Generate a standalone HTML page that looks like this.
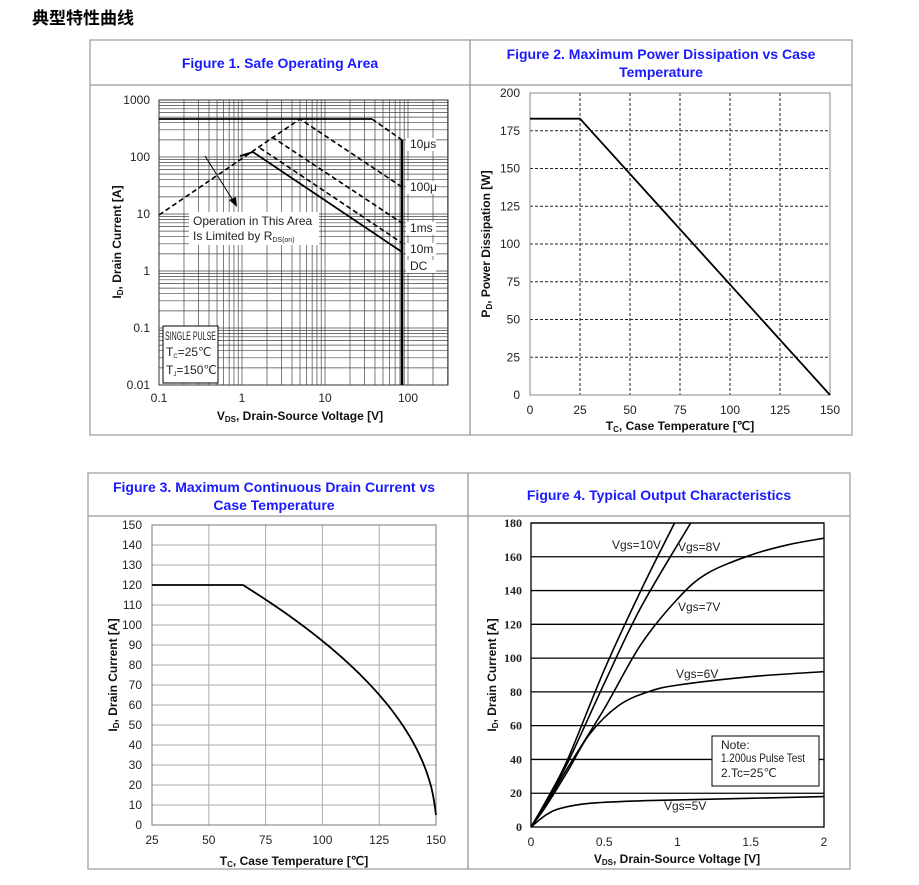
<!DOCTYPE html>
<html><head><meta charset="utf-8"><style>
body{margin:0;background:#fff;width:919px;height:885px;overflow:hidden}
svg{display:block;font-family:"Liberation Sans",Arial,sans-serif}
.t{fill:#1a1aff;font-weight:bold;font-size:14px}
.tk{font-size:12px;fill:#222}
.ax{font-size:12px;font-weight:bold;fill:#111}
</style></head><body>
<svg id="s" width="919" height="885" xmlns="http://www.w3.org/2000/svg">
<text x="32" y="24" font-size="17" font-weight="bold" font-family="'Liberation Sans','Noto Sans CJK SC',sans-serif">典型特性曲线</text>
<g fill="none" stroke="#999" stroke-width="1.2">
<rect x="90" y="40" width="380" height="395"/><rect x="470" y="40" width="382" height="395"/>
<line x1="90" y1="85" x2="852" y2="85"/>
<rect x="88" y="473" width="380" height="396"/><rect x="468" y="473" width="382" height="396"/>
<line x1="88" y1="516" x2="850" y2="516"/>
</g>
<text class="t" x="280" y="68" text-anchor="middle">Figure 1. Safe Operating Area</text>
<text class="t" x="661" y="59" text-anchor="middle">Figure 2. Maximum Power Dissipation vs Case</text>
<text class="t" x="661" y="77" text-anchor="middle">Temperature</text>
<text class="t" x="274" y="492" text-anchor="middle">Figure 3. Maximum Continuous Drain Current vs</text>
<text class="t" x="274" y="510" text-anchor="middle">Case Temperature</text>
<text class="t" x="659" y="500" text-anchor="middle">Figure 4. Typical Output Characteristics</text>
<g id="g"></g>
</svg>
<script>
var g=document.getElementById('g'),h='';
function L(a,b,c,d,st){h+='<line x1="'+a+'" y1="'+b+'" x2="'+c+'" y2="'+d+'" '+st+'/>';}
function T(x,y,t,cls,anc,ex){h+='<text x="'+x+'" y="'+y+'" class="'+(cls||'tk')+'" text-anchor="'+(anc||'middle')+'" '+(ex||'')+'>'+t+'</text>';}
function P(pts,st){h+='<polyline fill="none" points="'+pts.map(function(p){return p[0].toFixed(1)+','+p[1].toFixed(1)}).join(' ')+'" '+st+'/>';}
var fx=function(v){return 242+83*Math.log10(v)},fy=function(i){return 100+57*(3-Math.log10(i))};
var gs='stroke="#444" stroke-width="0.7"';
for(var d=-1;d<=2;d++)for(var k=1;k<10;k++){var v=k*Math.pow(10,d);if(v>300)break;L(fx(v),100,fx(v),385,gs);}
L(448,100,448,385,gs);
for(var d=-2;d<=2;d++)for(var k=1;k<10;k++){var v=k*Math.pow(10,d);L(159,fy(v),448,fy(v),gs);}
L(159,100,448,100,gs);
h+='<rect x="159" y="100" width="289" height="285" fill="none" stroke="#333" stroke-width="1"/>';
[[1000,100],[100,157],[10,214],[1,271],[0.1,328],[0.01,385]].forEach(function(a){T(150,a[1]+4,a[0],'tk','end');});
[[0.1,159],[1,242],[10,325],[100,408]].forEach(function(a){T(a[1],402,a[0]);});
T(300,420,'V<tspan font-size="8" dy="2">DS</tspan><tspan dy="-2">, Drain-Source Voltage [V]</tspan>','ax');
T(0,0,'I<tspan font-size="8" dy="2">D</tspan><tspan dy="-2">, Drain Current [A]</tspan>','ax','middle','transform="translate(121,242) rotate(-90)"');
var ds='stroke="#000" stroke-width="1.6" stroke-dasharray="5,3"';
P([[159,119],[372,119]],'stroke="#000" stroke-width="1.8"');
P([[372,119],[402,140]],ds);
L(402,140,402,385,'stroke="#000" stroke-width="2.5"');
P([[159,215],[300,119],[402,187]],ds);
P([[272,137],[402,223]],ds);
P([[260,148],[402,243]],ds);
P([[240,156],[253,152],[402,252]],'stroke="#000" stroke-width="1.8"');
[['10μs',148],['100μ',191],['1ms',232],['10m',253],['DC',270]].forEach(function(a){h+='<rect x="406" y="'+(a[1]-10)+'" width="30" height="13" fill="#fff"/>';T(410,a[1],a[0],'tk','start','font-size="11"');});
h+='<rect x="189" y="212" width="130" height="33" fill="#fff"/>';
T(193,225,'Operation in This Area','tk','start','font-size="11"');
T(193,240,'Is Limited by R<tspan font-size="7" dy="2">DS(on)</tspan>','tk','start','font-size="11"');
L(205,156,234,202,'stroke="#000" stroke-width="1"');
h+='<polygon points="237,207 229,200 236,197" fill="#000"/>';
h+='<rect x="163" y="326" width="55" height="57" fill="#fff" stroke="#000" stroke-width="1"/>';
T(165,340,'SINGLE PULSE','tk','start','font-size="8.5" textLength="51" lengthAdjust="spacingAndGlyphs"');
T(166,356,'T<tspan font-size="6" dy="2">C</tspan><tspan dy="-2">=25℃</tspan>','tk','start','font-size="9"');
T(166,374,'T<tspan font-size="6" dy="2">J</tspan><tspan dy="-2">=150℃</tspan>','tk','start','font-size="9"');
var x2=function(t){return 530+t*2},y2=function(p){return 395-p*1.51};
for(var t=25;t<150;t+=25)L(x2(t),93,x2(t),395,'stroke="#222" stroke-width="1" stroke-dasharray="3,2"');
for(var p=25;p<200;p+=25)L(530,y2(p),830,y2(p),'stroke="#222" stroke-width="1" stroke-dasharray="3,2"');
h+='<rect x="530" y="93" width="300" height="302" fill="none" stroke="#888" stroke-width="1"/>';
for(var p=0;p<=200;p+=25)T(520,y2(p)+4,p,'tk','end');
for(var t=0;t<=150;t+=25)T(x2(t),414,t);
T(680,430,'T<tspan font-size="8" dy="2">C</tspan><tspan dy="-2">, Case Temperature [℃]</tspan>','ax');
T(0,0,'P<tspan font-size="8" dy="2">D</tspan><tspan dy="-2">, Power Dissipation [W]</tspan>','ax','middle','transform="translate(490,244) rotate(-90)"');
P([[530,y2(183)],[580,y2(183)],[830,395]],'stroke="#000" stroke-width="1.8"');
var x3=function(t){return 152+(t-25)*2.272},y3=function(i){return 825-i*2};
for(var t=50;t<150;t+=25)L(x3(t),525,x3(t),825,'stroke="#aaa" stroke-width="1"');
for(var i=10;i<150;i+=10)L(152,y3(i),436,y3(i),'stroke="#aaa" stroke-width="1"');
h+='<rect x="152" y="525" width="284" height="300" fill="none" stroke="#777" stroke-width="1"/>';
for(var i=0;i<=150;i+=10)T(142,y3(i)+4,i,'tk','end');
for(var t=25;t<=150;t+=25)T(x3(t),844,t);
T(294,865,'T<tspan font-size="8" dy="2">C</tspan><tspan dy="-2">, Case Temperature [℃]</tspan>','ax');
T(0,0,'I<tspan font-size="8" dy="2">D</tspan><tspan dy="-2">, Drain Current [A]</tspan>','ax','middle','transform="translate(117,675) rotate(-90)"');
var pts=[[x3(25),y3(120)],[x3(65),y3(120)]];
for(var t=66;t<=150;t+=0.5){pts.push([x3(t),y3(Math.max(5,120*Math.sqrt((150-t)/85)))]);}
P(pts,'stroke="#000" stroke-width="1.8"');
var x4=function(v){return 531+v*146.5},y4=function(a){return 827-a*1.689};
for(var a=20;a<=180;a+=20)L(531,y4(a),824,y4(a),'stroke="#000" stroke-width="1.3"');
h+='<rect x="531" y="523" width="293" height="304" fill="none" stroke="#000" stroke-width="1.3"/>';
for(var a=0;a<=180;a+=20)T(522,y4(a)+4,a,'tk','end','font-size="10" font-weight="bold" font-family="Liberation Serif"');
[0,0.5,1,1.5,2].forEach(function(v){T(x4(v),846,v,'tk','middle','font-size="11"');});
T(677,863,'V<tspan font-size="8" dy="2">DS</tspan><tspan dy="-2">, Drain-Source Voltage [V]</tspan>','ax','middle','font-size="11"');
T(0,0,'I<tspan font-size="8" dy="2">D</tspan><tspan dy="-2">, Drain Current [A]</tspan>','ax','middle','transform="translate(496,675) rotate(-90)" font-size="11"');
function C(a){var p=a.map(function(q){return [x4(q[0]),y4(q[1])]});var s='M'+p[0][0]+','+p[0][1];
for(var i=1;i<p.length;i++){var p0=p[i-2]||p[i-1],p1=p[i-1],p2=p[i],p3=p[i+1]||p[i];
s+=' C'+(p1[0]+(p2[0]-p0[0])/6)+','+(p1[1]+(p2[1]-p0[1])/6)+' '+(p2[0]-(p3[0]-p1[0])/6)+','+(p2[1]-(p3[1]-p1[1])/6)+' '+p2[0]+','+p2[1];}
h+='<path d="'+s+'" fill="none" stroke="#000" stroke-width="1.6"/>';}
C([[0,0],[0.1,15],[0.25,40],[0.5,93],[0.75,140],[0.98,180]]);
C([[0,0],[0.1,14],[0.25,38],[0.5,85],[0.75,130],[1.09,180]]);
C([[0,0],[0.1,13],[0.25,35],[0.5,70],[0.75,108],[1,135],[1.2,150],[1.5,161],[1.75,167],[2,171]]);
C([[0,0],[0.1,12],[0.25,33],[0.4,55],[0.6,72],[0.8,80],[1,84],[1.5,89],[2,92]]);
C([[0,0],[0.1,7],[0.2,11],[0.4,14],[0.75,15.5],[1,16],[2,18]]);
[['Vgs=10V',612,549],['Vgs=8V',678,551],['Vgs=7V',678,611],['Vgs=6V',676,678],['Vgs=5V',664,810]].forEach(function(a){T(a[1],a[2],a[0],'tk','start','font-size="10"');});
h+='<rect x="712" y="736" width="107" height="50" fill="#fff" stroke="#000" stroke-width="1"/>';
T(721,749,'Note:','tk','start','font-size="9"');T(721,762,'1.200us Pulse Test','tk','start','font-size="9" textLength="84" lengthAdjust="spacingAndGlyphs"');T(721,777,'2.Tc=25℃','tk','start','font-size="9"');
g.innerHTML=h;
</script>
</body></html>
